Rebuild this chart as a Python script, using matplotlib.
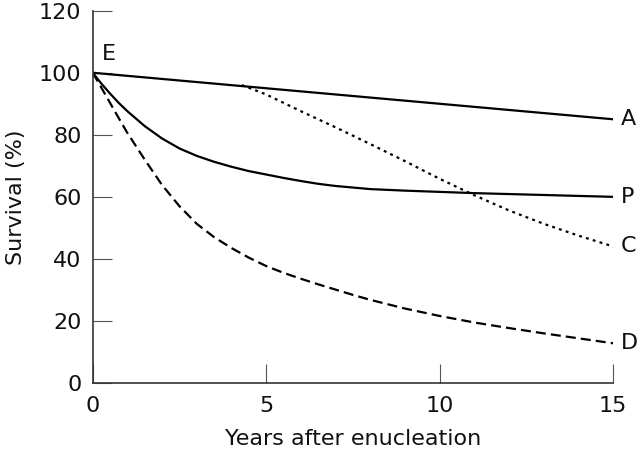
import matplotlib
matplotlib.use("Agg")
import matplotlib.pyplot as plt

# Data
years_A = [0, 15]
surv_A = [100, 85]

years_P = [0, 0.25, 0.5, 0.75, 1, 1.5, 2, 2.5, 3, 3.5, 4, 4.5, 5, 5.5, 6, 6.5, 7, 7.5, 8, 9, 10, 11, 12, 13, 14, 15]
surv_P = [100, 96.5, 93.3, 90.3, 87.6, 82.8, 78.8, 75.6, 73.2, 71.3, 69.7, 68.3, 67.2, 66.1, 65.1, 64.2,
          63.5, 63.0, 62.5, 62.0, 61.6, 61.2, 60.9, 60.6, 60.3, 60.0]

years_C = [4.3, 5, 6, 7, 8, 9, 10, 11, 12, 13, 14, 15]
surv_C = [96, 93, 87.6, 82.4, 77, 71.5, 65.8, 60.5, 55.6, 51.3, 47.5, 44]

years_D = [0, 0.25, 0.5, 0.75, 1, 1.5, 2, 2.5, 3, 3.5, 4, 4.5, 5, 5.5, 6, 6.5, 7, 7.5, 8, 9, 10, 11, 12, 13, 14, 15]
surv_D = [100, 95.2, 90.3, 85.4, 80.6, 72.0, 63.8, 57.0, 51.3, 47.0, 43.5, 40.4, 37.7, 35.5, 33.6, 31.8,
          30.1, 28.4, 26.8, 24.0, 21.6, 19.5, 17.7, 16.0, 14.4, 12.8]

line_labels = ["A", "P", "C", "D"]
label_y = [85, 60, 44, 13]
start_label = "E"

xticks = [0, 5, 10, 15]
yticks = [0, 20, 40, 60, 80, 100, 120]

plt.rcParams['font.family'] = ['DejaVu Sans']

fig = plt.figure(figsize=(6.4, 4.53), dpi=100)
ax = fig.add_axes([0.1448, 0.1545, 0.8134, 0.8219])

lw = 1.6
ax.plot(years_A, surv_A, color='black', lw=lw, solid_capstyle='butt')
ax.plot(years_P, surv_P, color='black', lw=lw, solid_joinstyle='round')
ax.plot(years_C, surv_C, color='black', lw=lw, linestyle=(0, (1.3, 1.9)))
ax.plot(years_D, surv_D, color='black', lw=lw, linestyle=(0, (4.5, 2.3)))

ax.set_xlim(0, 15)
ax.set_ylim(0, 120)
ax.set_xticks(xticks)
ax.set_yticks(yticks)

for s in ['top', 'right']:
    ax.spines[s].set_visible(False)
for s in ['left', 'bottom']:
    ax.spines[s].set_color('#333333')
    ax.spines[s].set_linewidth(1.2)

ax.tick_params(direction='in', length=14, width=0.8, color='#555555',
               labelsize=16, labelcolor='#111111')
ax.tick_params(axis='x', pad=9)
ax.tick_params(axis='y', pad=8)

ax.set_xlabel("Years after enucleation", fontsize=16, color='#111111', labelpad=10)
ax.set_ylabel("Survival (%)", fontsize=16, color='#111111', labelpad=9)

for lab, yv in zip(line_labels, label_y):
    ax.text(15.22, yv, lab, fontsize=16, va='center', ha='left', color='#111111',
            clip_on=False)
ax.text(0.47, 106, start_label, fontsize=16, va='center', ha='center', color='#111111')

fig.savefig("out.png", dpi=100)
